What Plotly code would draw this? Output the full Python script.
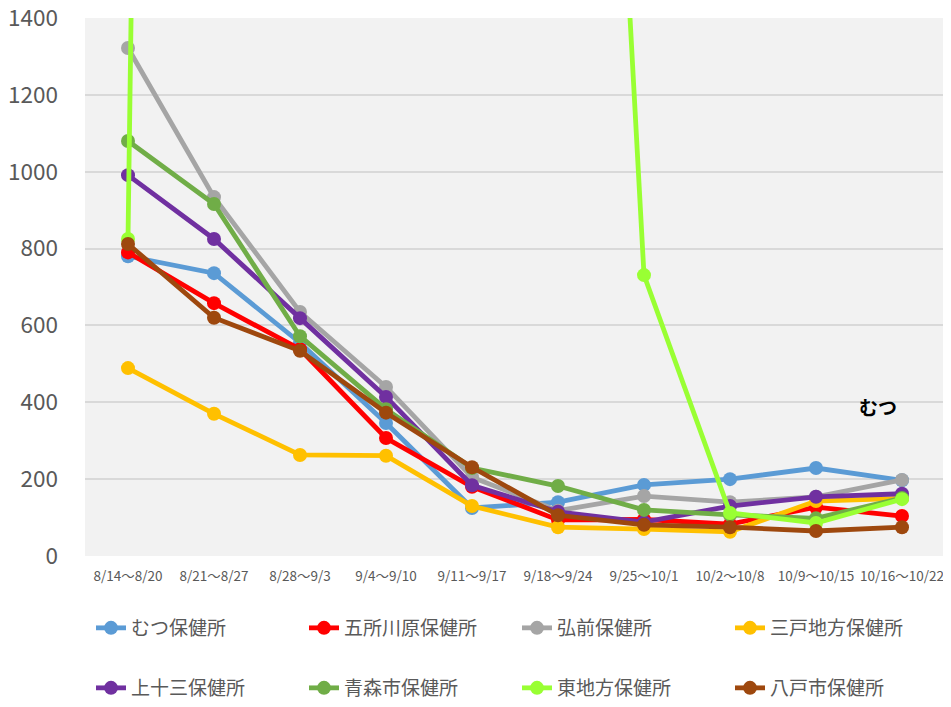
import plotly.graph_objects as go

weeks = ["8/14～8/20", "8/21～8/27", "8/28～9/3", "9/4～9/10", "9/11～9/17",
         "9/18～9/24", "9/25～10/1", "10/2～10/8", "10/9～10/15", "10/16～10/22"]

mutsu     = [780, 736, 555, 346, 125, 140, 185, 200, 229, 197]
goshogawara = [790, 658, 538, 307, 180, 94, 95, 83, 127, 104]
hirosaki  = [1322, 934, 635, 440, 205, 118, 156, 140, 154, 198]
sannohe   = [489, 370, 263, 261, 130, 75, 70, 63, 143, 150]
kamitosa  = [991, 825, 619, 414, 184, 115, 88, 130, 154, 162]
aomori    = [1080, 916, 572, 382, 229, 182, 120, 107, 98, 151]
higashi   = [825, 17000, 14000, 11000, 7500, 4850, 731, 112, 86, 148]
hachinohe = [812, 620, 534, 373, 231, 106, 81, 75, 65, 75]

series = [
    ("むつ保健所", mutsu, "#5b9bd5", "legend"),
    ("五所川原保健所", goshogawara, "#ff0000", "legend"),
    ("弘前保健所", hirosaki, "#a5a5a5", "legend"),
    ("三戸地方保健所", sannohe, "#ffc000", "legend"),
    ("上十三保健所", kamitosa, "#7030a0", "legend2"),
    ("青森市保健所", aomori, "#70ad47", "legend2"),
    ("東地方保健所", higashi, "#99ff33", "legend2"),
    ("八戸市保健所", hachinohe, "#9e480e", "legend2"),
]

fig = go.Figure()
for name, vals, color, lg in series:
    fig.add_trace(go.Scatter(
        x=weeks, y=vals, name=name, mode="lines+markers",
        line=dict(color=color, width=4.8),
        marker=dict(color=color, size=14),
        legend=lg, cliponaxis=True,
    ))

font_family = "Noto Sans CJK JP"
W, H = 943, 699  # page body has an 8px margin
legend_common = dict(
    orientation="h", xanchor="left", yanchor="middle",
    xref="container", yref="container",
    font=dict(family=font_family, size=19, color="#595959"),
    entrywidth=168, entrywidthmode="pixels",
    bgcolor="rgba(0,0,0,0)",
)

fig.update_layout(
    width=W, height=H,
    margin=dict(l=77, r=6, t=10, b=151),
    paper_bgcolor="white",
    plot_bgcolor="#f2f2f2",
    font=dict(family=font_family, color="#595959"),
    showlegend=True,
    legend=dict(x=83 / W, y=1 - 620 / H, **legend_common),
    legend2=dict(x=83 / W, y=1 - 680 / H, **legend_common),
    xaxis=dict(
        type="category", showgrid=False, showline=False, zeroline=False,
        tickfont=dict(family=font_family, size=13.5, color="#595959"),
        ticks="", range=[-0.5, 9.5], automargin=False,
        ticklabelstandoff=10, ticklabeloverflow="allow",
    ),
    yaxis=dict(
        range=[0, 1400], dtick=200, showgrid=True, gridcolor="#d9d9d9",
        gridwidth=1.5, zeroline=False, showline=False,
        tickfont=dict(family=font_family, size=22.5, color="#595959"),
        ticks="", ticklabelstandoff=26, automargin=False,
        ticklabeloverflow="allow",
    ),
    annotations=[dict(
        x=8.72, y=390, xref="x", yref="y", text="<b>むつ</b>",
        showarrow=False, font=dict(family=font_family, size=19, color="black"),
    )],
)

fig.write_html("out.html")
